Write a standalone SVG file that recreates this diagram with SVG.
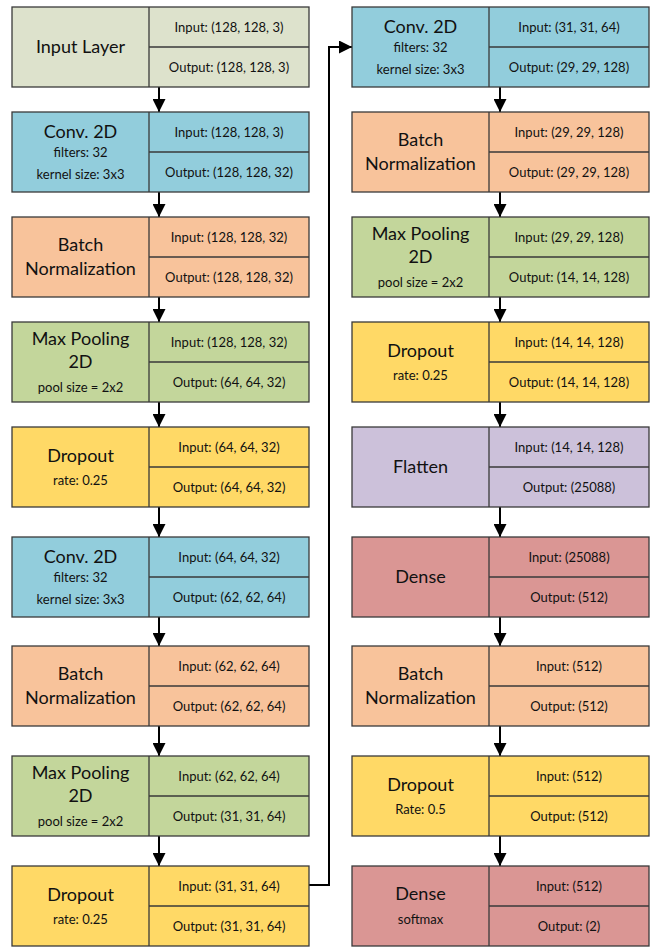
<svg xmlns="http://www.w3.org/2000/svg" width="652" height="948" viewBox="0 0 652 948">
<defs>
<marker id="ah" markerUnits="userSpaceOnUse" markerWidth="13" markerHeight="13" viewBox="0 0 13 13" refX="13" refY="6.5" orient="auto">
<path d="M0,0 L13,6.5 L0,13 Z" fill="#000"/>
</marker>
<style>
.box{stroke:#3a3a3a;stroke-width:1.3}
.div{stroke:#3a3a3a;stroke-width:1.3;fill:none}
.inp{fill:#DDE2CC}.conv{fill:#92CDDC}.bn{fill:#F8C39B}.mp{fill:#C3D69B}.dr{fill:#FFD966}.fl{fill:#CCC1DA}.de{fill:#DA9694}
text{font-family:Lato,"Open Sans","Liberation Sans",sans-serif;fill:#111;text-anchor:middle}
.t{font-size:18px}
.s{font-size:13px}
.io{font-size:13px}
.c{stroke:#000;stroke-width:2;fill:none}
</style>
</defs>
<g id="connectors">
<path class="c" d="M159,87 V112" marker-end="url(#ah)"/>
<path class="c" d="M159,192 V217" marker-end="url(#ah)"/>
<path class="c" d="M159,297 V322" marker-end="url(#ah)"/>
<path class="c" d="M159,402 V427" marker-end="url(#ah)"/>
<path class="c" d="M159,507 V537" marker-end="url(#ah)"/>
<path class="c" d="M159,617 V646" marker-end="url(#ah)"/>
<path class="c" d="M159,726 V756" marker-end="url(#ah)"/>
<path class="c" d="M159,836 V866" marker-end="url(#ah)"/>
<path class="c" d="M309,885 H329 V47 H352" marker-end="url(#ah)"/>
<path class="c" d="M500,87 V112" marker-end="url(#ah)"/>
<path class="c" d="M500,192 V217" marker-end="url(#ah)"/>
<path class="c" d="M500,297 V322" marker-end="url(#ah)"/>
<path class="c" d="M500,402 V427" marker-end="url(#ah)"/>
<path class="c" d="M500,507 V537" marker-end="url(#ah)"/>
<path class="c" d="M500,617 V646" marker-end="url(#ah)"/>
<path class="c" d="M500,726 V756" marker-end="url(#ah)"/>
<path class="c" d="M500,836 V866" marker-end="url(#ah)"/>
</g>

<g id="n1-input">
<rect class="box inp" x="12" y="7" width="297" height="80"/>
<path class="div" d="M149,7 V87 M149,47 H309"/>
<text class="t" x="80.5" y="53">Input Layer</text>
<text class="io" x="229" y="31.5">Input: (128, 128, 3)</text>
<text class="io" x="229" y="72">Output: (128, 128, 3)</text>
</g>

<g id="n2-conv">
<rect class="box conv" x="12" y="112" width="297" height="80"/>
<path class="div" d="M149,112 V192 M149,152 H309"/>
<text class="t" x="80.5" y="137.5">Conv. 2D</text>
<text class="s" x="80.5" y="157">filters: 32</text>
<text class="s" x="80.5" y="178.5">kernel size: 3x3</text>
<text class="io" x="229" y="136.5">Input: (128, 128, 3)</text>
<text class="io" x="229" y="177">Output: (128, 128, 32)</text>
</g>

<g id="n3-bn">
<rect class="box bn" x="12" y="217" width="297" height="80"/>
<path class="div" d="M149,217 V297 M149,257 H309"/>
<text class="t" x="80.5" y="251">Batch</text>
<text class="t" x="80.5" y="275">Normalization</text>
<text class="io" x="229" y="241.5">Input: (128, 128, 32)</text>
<text class="io" x="229" y="282">Output: (128, 128, 32)</text>
</g>

<g id="n4-mp">
<rect class="box mp" x="12" y="322" width="297" height="80"/>
<path class="div" d="M149,322 V402 M149,362 H309"/>
<text class="t" x="80.5" y="345">Max Pooling</text>
<text class="t" x="80.5" y="368">2D</text>
<text class="s" x="80.5" y="392">pool size = 2x2</text>
<text class="io" x="229" y="346.5">Input: (128, 128, 32)</text>
<text class="io" x="229" y="387">Output: (64, 64, 32)</text>
</g>

<g id="n5-dropout">
<rect class="box dr" x="12" y="427" width="297" height="80"/>
<path class="div" d="M149,427 V507 M149,467 H309"/>
<text class="t" x="80.5" y="462">Dropout</text>
<text class="s" x="80.5" y="484.5">rate: 0.25</text>
<text class="io" x="229" y="451.5">Input: (64, 64, 32)</text>
<text class="io" x="229" y="492">Output: (64, 64, 32)</text>
</g>

<g id="n6-conv">
<rect class="box conv" x="12" y="537" width="297" height="80"/>
<path class="div" d="M149,537 V617 M149,577 H309"/>
<text class="t" x="80.5" y="562.5">Conv. 2D</text>
<text class="s" x="80.5" y="582">filters: 32</text>
<text class="s" x="80.5" y="603.5">kernel size: 3x3</text>
<text class="io" x="229" y="561.5">Input: (64, 64, 32)</text>
<text class="io" x="229" y="602">Output: (62, 62, 64)</text>
</g>

<g id="n7-bn">
<rect class="box bn" x="12" y="646" width="297" height="80"/>
<path class="div" d="M149,646 V726 M149,686 H309"/>
<text class="t" x="80.5" y="680">Batch</text>
<text class="t" x="80.5" y="704">Normalization</text>
<text class="io" x="229" y="670.5">Input: (62, 62, 64)</text>
<text class="io" x="229" y="711">Output: (62, 62, 64)</text>
</g>

<g id="n8-mp">
<rect class="box mp" x="12" y="756" width="297" height="80"/>
<path class="div" d="M149,756 V836 M149,796 H309"/>
<text class="t" x="80.5" y="779">Max Pooling</text>
<text class="t" x="80.5" y="802">2D</text>
<text class="s" x="80.5" y="826">pool size = 2x2</text>
<text class="io" x="229" y="780.5">Input: (62, 62, 64)</text>
<text class="io" x="229" y="821">Output: (31, 31, 64)</text>
</g>

<g id="n9-dropout">
<rect class="box dr" x="12" y="866" width="297" height="80"/>
<path class="div" d="M149,866 V946 M149,906 H309"/>
<text class="t" x="80.5" y="901">Dropout</text>
<text class="s" x="80.5" y="923.5">rate: 0.25</text>
<text class="io" x="229" y="890.5">Input: (31, 31, 64)</text>
<text class="io" x="229" y="931">Output: (31, 31, 64)</text>
</g>

<g id="n10-conv">
<rect class="box conv" x="352" y="7" width="297" height="80"/>
<path class="div" d="M489,7 V87 M489,47 H649"/>
<text class="t" x="420.5" y="32.5">Conv. 2D</text>
<text class="s" x="420.5" y="52">filters: 32</text>
<text class="s" x="420.5" y="73.5">kernel size: 3x3</text>
<text class="io" x="569" y="31.5">Input: (31, 31, 64)</text>
<text class="io" x="569" y="72">Output: (29, 29, 128)</text>
</g>

<g id="n11-bn">
<rect class="box bn" x="352" y="112" width="297" height="80"/>
<path class="div" d="M489,112 V192 M489,152 H649"/>
<text class="t" x="420.5" y="146">Batch</text>
<text class="t" x="420.5" y="170">Normalization</text>
<text class="io" x="569" y="136.5">Input: (29, 29, 128)</text>
<text class="io" x="569" y="177">Output: (29, 29, 128)</text>
</g>

<g id="n12-mp">
<rect class="box mp" x="352" y="217" width="297" height="80"/>
<path class="div" d="M489,217 V297 M489,257 H649"/>
<text class="t" x="420.5" y="240">Max Pooling</text>
<text class="t" x="420.5" y="263">2D</text>
<text class="s" x="420.5" y="287">pool size = 2x2</text>
<text class="io" x="569" y="241.5">Input: (29, 29, 128)</text>
<text class="io" x="569" y="282">Output: (14, 14, 128)</text>
</g>

<g id="n13-dropout">
<rect class="box dr" x="352" y="322" width="297" height="80"/>
<path class="div" d="M489,322 V402 M489,362 H649"/>
<text class="t" x="420.5" y="357">Dropout</text>
<text class="s" x="420.5" y="379.5">rate: 0.25</text>
<text class="io" x="569" y="346.5">Input: (14, 14, 128)</text>
<text class="io" x="569" y="387">Output: (14, 14, 128)</text>
</g>

<g id="n14-flatten">
<rect class="box fl" x="352" y="427" width="297" height="80"/>
<path class="div" d="M489,427 V507 M489,467 H649"/>
<text class="t" x="420.5" y="473">Flatten</text>
<text class="io" x="569" y="451.5">Input: (14, 14, 128)</text>
<text class="io" x="569" y="492">Output: (25088)</text>
</g>

<g id="n15-dense">
<rect class="box de" x="352" y="537" width="297" height="80"/>
<path class="div" d="M489,537 V617 M489,577 H649"/>
<text class="t" x="420.5" y="583">Dense</text>
<text class="io" x="569" y="561.5">Input: (25088)</text>
<text class="io" x="569" y="602">Output: (512)</text>
</g>

<g id="n16-bn">
<rect class="box bn" x="352" y="646" width="297" height="80"/>
<path class="div" d="M489,646 V726 M489,686 H649"/>
<text class="t" x="420.5" y="680">Batch</text>
<text class="t" x="420.5" y="704">Normalization</text>
<text class="io" x="569" y="670.5">Input: (512)</text>
<text class="io" x="569" y="711">Output: (512)</text>
</g>

<g id="n17-dropout">
<rect class="box dr" x="352" y="756" width="297" height="80"/>
<path class="div" d="M489,756 V836 M489,796 H649"/>
<text class="t" x="420.5" y="791">Dropout</text>
<text class="s" x="420.5" y="813.5">Rate: 0.5</text>
<text class="io" x="569" y="780.5">Input: (512)</text>
<text class="io" x="569" y="821">Output: (512)</text>
</g>

<g id="n18-dense">
<rect class="box de" x="352" y="866" width="297" height="80"/>
<path class="div" d="M489,866 V946 M489,906 H649"/>
<text class="t" x="420.5" y="900">Dense</text>
<text class="s" x="420.5" y="923.5">softmax</text>
<text class="io" x="569" y="890.5">Input: (512)</text>
<text class="io" x="569" y="931">Output: (2)</text>
</g>
</svg>
